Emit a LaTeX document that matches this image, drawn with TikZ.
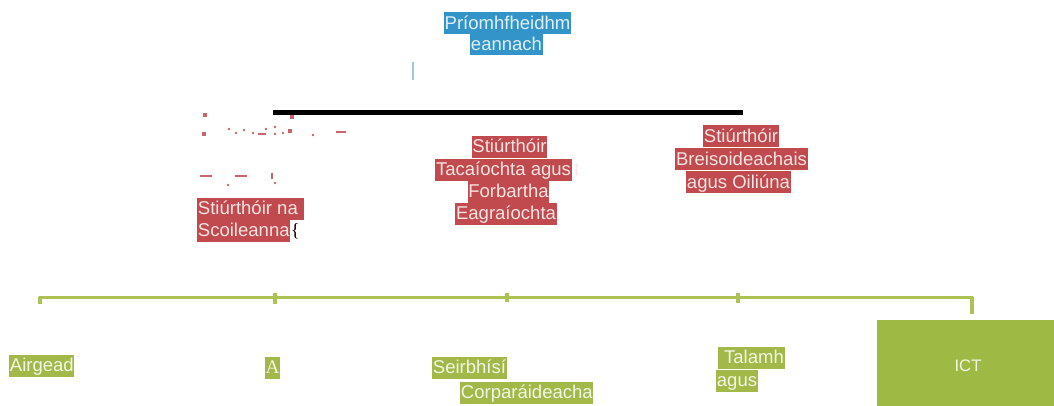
\documentclass[tikz,border=0pt]{standalone}
\usepackage{fontspec}
\setmainfont{Liberation Sans}
\newfontfamily\serifA{Liberation Serif}
\usetikzlibrary{positioning}
\definecolor{chiefblue}{RGB}{50,148,200}
\definecolor{chieftext}{RGB}{225,240,250}
\definecolor{dirred}{RGB}{192,74,77}
\definecolor{redtext}{RGB}{248,228,226}
\definecolor{unitgreen}{RGB}{162,184,72}
\definecolor{ictgreen}{RGB}{158,186,68}
\definecolor{greentext}{RGB}{242,246,228}
\definecolor{bracegreen}{RGB}{172,194,82}
\tikzset{
  hl/.style={inner xsep=0.5pt, inner ysep=0pt, text height=12.6pt, text depth=3.9pt,
    font=\fontsize{13.9}{16.5}\selectfont},
  chiefline/.style={hl, fill=chiefblue, text=chieftext},
  dirline/.style={hl, fill=dirred, text=redtext},
  unitline/.style={hl, fill=unitgreen, text=greentext},
  speck/.style={fill=dirred!85, inner sep=0pt, minimum size=3pt}
}
\begin{document}
\begin{tikzpicture}[x=0.75pt,y=-0.75pt]
    \useasboundingbox (0,0) rectangle (1054,406);
    % chief executive
    \node (chiefa) at (507.5,23.5) [chiefline] {Príomhfheidhm};
    \node (chiefb) at (506.5,44.5) [chiefline] {eannach};
    \coordinate (tabtop) at (413,62);
    \coordinate (tabbot) at (413,80);
    \draw [chiefblue!50, line width=1.1pt] (tabtop) -- (tabbot);
    % directors
    \coordinate (barl) at (273,112.5);
    \coordinate (barr) at (743,112.5);
    \draw [line width=3.6pt] (barl) -- (barr);
    \node (scha) at (197,209) [dirline, anchor=west] {Stiúrthóir na~~};
    \node (schb) at (197,231) [dirline, anchor=west] {Scoileanna};
    \node (brace) [right=0pt of schb, font=\fontsize{14}{16}\selectfont\serifA, inner sep=0pt] {\{};
    \node (supa) at (509.5,147) [dirline] {Stiúrthóir~};
    \node (supb) at (503.5,170) [dirline] {Tacaíochta agus~};
    \node (supc) [right=1pt of supb, hl, text=dirred!12] {t};
    \node (supd) at (508.5,192) [dirline] {Forbartha~};
    \node (supe) at (506,214) [dirline] {Eagraíochta};
    \node (fea) at (741,136.5) [dirline] {Stiúrthóir~};
    \node (feb) at (741.5,159.5) [dirline] {Breisoideachais~};
    \node (fec) at (738.5,182.5) [dirline] {agus Oiliúna};
    % specks
    \foreach \x/\y in {205/115, 204/134, 292/117, 290/131}
      \node [speck] at (\x,\y) {};
    \foreach \x/\y in {229/129, 236/133, 244/130, 253/133, 266/129, 275/127, 275/134, 283/133, 313/135, 228/185, 275/183}
      \fill [dirred!85] (\x,\y) circle (1.3);
    \foreach \xa/\xb/\yy in {258/266/134, 336/346/132, 200/212/176, 235/247/176}
      \draw [dirred!85, line width=1.4pt] (\xa,\yy) -- (\xb,\yy);
    \draw [dirred!85, line width=1.2pt] (272,173) -- (272,179);
    % unit bracket
    \coordinate (brl) at (40,297.5);
    \coordinate (brr) at (972,297.5);
    \draw [bracegreen, line width=2.8pt, line join=round]
      (40,304) -- (brl) -- (brr) -- (972,314);
    \foreach \x/\y in {275/304, 507/302, 738/303}
      \draw [bracegreen, line width=2.4pt] (\x,293) -- (\x,\y);
    % units
    \node (fin) at (9,366) [unitline, anchor=west] {Airgead};
    \node (una) at (272.5,368) [unitline, font=\fontsize{14.5}{16.5}\selectfont\serifA] {A};
    \node (corpa) at (432,368) [unitline, anchor=west] {Seirbhísí~};
    \node (corpb) at (460,393) [unitline, anchor=west] {Corparáideacha~};
    \node (landa) at (718,357.5) [unitline, anchor=west] {~Talamh~};
    \node (landb) at (716,380.5) [unitline, anchor=west] {agus};
    \fill [ictgreen] (877,320) rectangle (1054,406);
    \node (ict) at (968,366) [text=greentext, font=\fontsize{12.5}{14}\selectfont] {ICT};
\end{tikzpicture}
\end{document}
